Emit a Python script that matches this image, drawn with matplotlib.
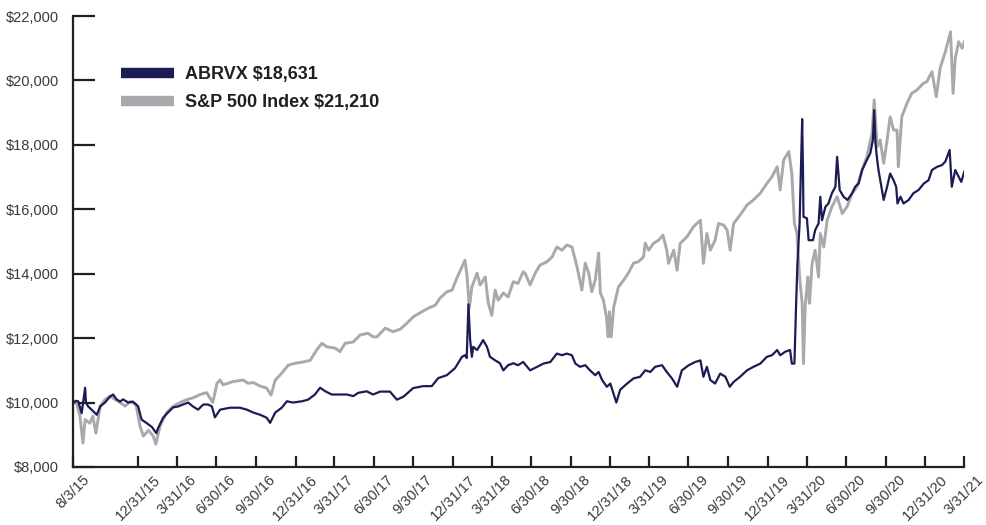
import matplotlib
matplotlib.use("Agg")
import matplotlib.pyplot as plt
from matplotlib.lines import Line2D
from matplotlib.ticker import FuncFormatter
import pandas as pd

# growth of $10,000 (days since 8/3/15 inception)
start = pd.Timestamp("2015-08-03")

abrvx_days = [0, 7, 12, 20, 28, 30, 35, 43, 55, 63, 74, 86, 93, 101, 109, 116, 128, 139,
              151, 159, 171, 183, 193, 197, 209, 220, 232, 244, 255, 267, 278, 290, 302,
              313, 322, 329, 341, 364, 387, 403, 418, 434, 449, 457, 469, 484, 496, 510,
              531, 545, 561, 573, 585, 600, 619, 635, 650, 661, 681, 696, 712, 735, 751,
              766, 789, 812, 832, 847, 867, 886, 902, 909, 913, 917, 921, 925, 928, 937,
              944, 951, 960, 967, 979, 990, 998, 1009, 1021, 1032, 1044, 1060, 1076, 1091,
              1107, 1122, 1134, 1145, 1157, 1165, 1176, 1188, 1199, 1211, 1219, 1227, 1238,
              1246, 1260, 1269, 1285, 1300, 1315, 1327, 1339, 1350, 1366, 1377, 1389, 1401,
              1412, 1428, 1443, 1455, 1462, 1470, 1478, 1489, 1501, 1513, 1523, 1532, 1547,
              1563, 1578, 1594, 1609, 1621, 1633, 1640, 1652, 1663, 1667, 1673, 1677, 1680,
              1685, 1691, 1693, 1694, 1702, 1706, 1716, 1721, 1729, 1733, 1737, 1745, 1752,
              1760, 1768, 1772, 1778, 1787, 1796, 1807, 1814, 1822, 1830, 1841, 1849, 1855,
              1858, 1861, 1865, 1868, 1876, 1880, 1888, 1895, 1903, 1909, 1912, 1919, 1926,
              1938, 1949, 1961, 1973, 1984, 1992, 2004, 2015, 2023, 2033, 2038, 2046, 2054,
              2060, 2067]
abrvx = [10000, 10050, 10040, 9670, 10460, 10000, 9880, 9780, 9620, 9880, 10000, 10190,
         10250, 10100, 10030, 10100, 10000, 10030, 9880, 9470, 9360, 9240, 9050, 9200,
         9530, 9690, 9850, 9880, 9940, 10000, 9880, 9780, 9940, 9940, 9880, 9540, 9780,
         9840, 9840, 9780, 9690, 9620, 9530, 9370, 9690, 9840, 10040, 10000, 10040, 10090,
         10250, 10460, 10350, 10250, 10250, 10250, 10200, 10300, 10350, 10250, 10340,
         10340, 10090, 10180, 10450, 10510, 10510, 10760, 10850, 11070, 11420, 11470,
         11380, 13050, 11940, 11420, 11730, 11630, 11780, 11940, 11730, 11420, 11310,
         11220, 11000, 11160, 11220, 11160, 11260, 11000, 11110, 11210, 11260, 11520,
         11470, 11520, 11470, 11210, 11110, 11160, 11000, 10850, 10950, 10700, 10490,
         10590, 10000, 10400, 10590, 10750, 10800, 11000, 10950, 11110, 11160, 10950,
         10750, 10490, 11000, 11160, 11260, 11310, 10800, 11110, 10700, 10590, 10900,
         10800, 10490, 10640, 10800, 11000, 11110, 11210, 11420, 11470, 11630, 11470,
         11580, 11630, 11210, 11210, 13080, 14320, 15560, 18800, 17110, 15770, 15720,
         15040, 15040, 15350, 15560, 16390, 15660, 16080, 16180, 16500, 16700, 17630,
         16600, 16390, 16290, 16500, 16700, 16800, 17220, 17530, 17740, 18150, 19080,
         18040, 17530, 17220, 16600, 16290, 16700, 17110, 16900, 16700, 16180, 16390,
         16180, 16290, 16500, 16600, 16800, 16900, 17220, 17320, 17370, 17480, 17840,
         16700, 17220, 17010, 16850, 17170]

sp500_days = [0, 7, 16, 23, 28, 39, 46, 53, 63, 74, 86, 97, 109, 121, 132, 146, 155, 163,
              175, 186, 192, 202, 217, 233, 248, 264, 279, 295, 310, 324, 334, 341, 348,
              371, 394, 406, 418, 434, 449, 459, 469, 484, 499, 515, 534, 550, 565, 577,
              589, 608, 619, 631, 650, 666, 684, 696, 705, 724, 742, 759, 774, 789, 809,
              824, 840, 851, 867, 879, 890, 902, 909, 914, 919, 925, 937, 944, 956, 963,
              971, 979, 986, 998, 1009, 1021, 1032, 1044, 1049, 1060, 1072, 1083, 1099,
              1111, 1122, 1134, 1145, 1157, 1165, 1172, 1180, 1188, 1196, 1203, 1211, 1219,
              1223, 1230, 1237, 1241, 1244, 1248, 1254, 1265, 1277, 1288, 1300, 1311, 1323,
              1327, 1335, 1346, 1358, 1368, 1377, 1381, 1393, 1401, 1408, 1424, 1439, 1455,
              1462, 1470, 1478, 1489, 1497, 1509, 1517, 1524, 1532, 1547, 1563, 1578, 1594,
              1609, 1621, 1633, 1640, 1648, 1660, 1667, 1673, 1679, 1685, 1691, 1694, 1698,
              1704, 1708, 1714, 1721, 1729, 1733, 1741, 1749, 1760, 1772, 1784, 1795, 1807,
              1818, 1830, 1841, 1853, 1858, 1865, 1872, 1880, 1888, 1895, 1903, 1911, 1914,
              1922, 1934, 1945, 1957, 1972, 1980, 1992, 2002, 2011, 2023, 2031, 2035, 2041,
              2046, 2054, 2062, 2067]
sp500 = [10000, 10050, 9580, 8740, 9470, 9360, 9580, 9050, 9890, 10090, 10200, 10100,
         10000, 9890, 10030, 9940, 9280, 8960, 9140, 8960, 8710, 9280, 9690, 9890, 10000,
         10090, 10150, 10250, 10310, 10000, 10600, 10700, 10550, 10650, 10700, 10600,
         10620, 10510, 10450, 10230, 10700, 10910, 11160, 11220, 11260, 11310, 11630,
         11840, 11730, 11690, 11580, 11840, 11880, 12100, 12150, 12040, 12040, 12310,
         12200, 12280, 12460, 12660, 12820, 12930, 13020, 13240, 13440, 13490, 13860,
         14210, 14420, 13900, 12930, 13590, 14020, 13650, 13900, 13090, 12710, 13490,
         13180, 13400, 13280, 13750, 13700, 14060, 14000, 13650, 14020, 14270, 14370,
         14520, 14830, 14730, 14890, 14830, 14420, 14020, 13490, 14330, 14020, 13440,
         13800, 14640, 13400, 13180, 12660, 12040, 12820, 12040, 12970, 13590, 13800,
         14020, 14330, 14370, 14520, 14950, 14730, 14940, 15040, 15200, 14730, 14320,
         14730, 14110, 14940, 15150, 15460, 15660, 14320, 15250, 14730, 15040, 15560,
         15510, 15350, 14730, 15560, 15820, 16130, 16290, 16500, 16800, 17010, 17320,
         16600, 17530, 17790, 17110, 15560, 15250, 13900, 13080, 11210, 12970, 13900,
         13080, 14320, 14730, 13900, 15250, 14830, 15660, 16080, 16390, 15870, 16080,
         16500, 16700, 17220, 17630, 18350, 19400, 17940, 18150, 17430, 18150, 18870,
         18460, 18460, 17320, 18870, 19290, 19600, 19700, 19910, 19960, 20270, 19490,
         20380, 20890, 21310, 21510, 19600, 20690, 21200, 21000, 21200]

tick_labels = ["8/3/15", "12/31/15", "3/31/16", "6/30/16", "9/30/16", "12/31/16",
               "3/31/17", "6/30/17", "9/30/17", "12/31/17", "3/31/18", "6/30/18",
               "9/30/18", "12/31/18", "3/31/19", "6/30/19", "9/30/19", "12/31/19",
               "3/31/20", "6/30/20", "9/30/20", "12/31/20", "3/31/21"]

abrvx_label = "ABRVX $18,631"
sp500_label = "S&P 500 Index $21,210"

NAVY = "#1b1c54"
GRAY = "#a7a9ac"

plt.rcParams["font.family"] = ["Liberation Sans", "DejaVu Sans"]

fig = plt.figure(figsize=(9.87, 5.25), dpi=100)
ax = fig.add_axes([0.074, 0.1105, 0.903, 0.859])

abrvx_dates = start + pd.to_timedelta(abrvx_days, unit="D")
sp500_dates = start + pd.to_timedelta(sp500_days, unit="D")

ax.plot(sp500_dates, sp500, color=GRAY, lw=2.1, zorder=2)
ax.plot(abrvx_dates, abrvx, color=NAVY, lw=1.6, zorder=3)

ticks = pd.to_datetime(tick_labels, format="%m/%d/%y")
ax.set_xticks(ticks)
ax.set_xticklabels(tick_labels, rotation=45, ha="center", va="top", fontsize=10.5, color="#3a3a3a")
ax.set_xlim(ticks[0], ticks[-1])

ax.set_ylim(8000, 22000)
ax.set_yticks(range(8000, 22001, 2000))
ax.yaxis.set_major_formatter(FuncFormatter(lambda v, p: "${:,.0f}".format(v)))
for lab in ax.get_yticklabels():
  lab.set_fontsize(10.5)
  lab.set_color("#3a3a3a")

for side in ["top", "right"]:
  ax.spines[side].set_visible(False)
for side in ["left", "bottom"]:
  ax.spines[side].set_linewidth(1.6)
  ax.spines[side].set_color("#231f20")

ax.tick_params(axis="y", direction="in", length=16, width=1.6, color="#231f20", pad=10)
ax.tick_params(axis="x", direction="in", length=8, width=1.6, color="#231f20", pad=4)

handles = [Line2D([], [], color=NAVY, lw=7.5, solid_capstyle="butt"),
           Line2D([], [], color=GRAY, lw=7.5, solid_capstyle="butt")]
leg = ax.legend(handles, [abrvx_label, sp500_label], loc="upper left",
                bbox_to_anchor=(0.036, 0.925), frameon=False, handlelength=2.9,
                handletextpad=0.65, labelspacing=0.6,
                prop={"weight": "bold", "size": 13})
for t in leg.get_texts():
  t.set_color("#231f20")

fig.savefig("out.png", dpi=100)
